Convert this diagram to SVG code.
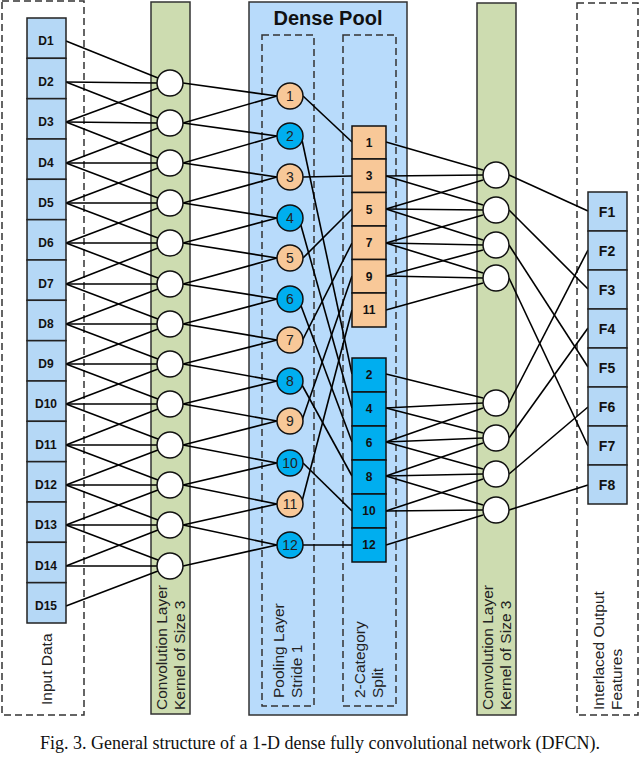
<svg xmlns="http://www.w3.org/2000/svg" width="640" height="761" viewBox="0 0 640 761">
<style>
.dash{fill:none;stroke:#333;stroke-width:1.5;stroke-dasharray:7,4}
.bar{fill:#cddcb0;stroke:#333;stroke-width:1.5}
.db{fill:#b5d8f6;stroke:#222;stroke-width:1.5}
.cv{fill:#fff;stroke:#111;stroke-width:1.5}
.po{fill:#f8c898;stroke:#111;stroke-width:1.5}
.pb{fill:#00aeef;stroke:#111;stroke-width:1.5}
.bl{font-family:"Liberation Sans",Arial,sans-serif;font-weight:bold;text-anchor:middle;fill:#111}
.nm{font-family:"Liberation Sans",Arial,sans-serif;text-anchor:middle;fill:#222;font-size:14px}
.lab{font-family:"Liberation Sans",Arial,sans-serif;font-size:15.5px;fill:#222}
#edges line{stroke:#000;stroke-width:1.6}
</style>
<rect class="dash" x="2" y="1" width="82" height="714"/>
<rect class="bar" x="151" y="2" width="39" height="712"/>
<rect x="249" y="2" width="158" height="713" fill="#b8dbfb" stroke="#333" stroke-width="1.5"/>
<text class="bl" x="328" y="25" font-size="20">Dense Pool</text>
<rect class="dash" x="262" y="35" width="52" height="671"/>
<rect class="dash" x="343" y="35" width="53" height="671"/>
<rect class="bar" x="477" y="3" width="39" height="712"/>
<rect class="dash" x="577" y="3" width="61" height="712"/>
<g id="edges">
<line x1="66" y1="41" x2="158" y2="78"/><line x1="66" y1="82" x2="157" y2="83"/><line x1="66" y1="122" x2="158" y2="88"/>
<line x1="66" y1="82" x2="158" y2="118"/><line x1="66" y1="122" x2="157" y2="123"/><line x1="66" y1="163" x2="158" y2="128"/>
<line x1="66" y1="122" x2="158" y2="158"/><line x1="66" y1="163" x2="157" y2="163"/><line x1="66" y1="203" x2="158" y2="168"/>
<line x1="66" y1="163" x2="158" y2="198"/><line x1="66" y1="203" x2="157" y2="203"/><line x1="66" y1="243" x2="158" y2="208"/>
<line x1="66" y1="203" x2="158" y2="238"/><line x1="66" y1="243" x2="157" y2="243"/><line x1="66" y1="284" x2="158" y2="248"/>
<line x1="66" y1="243" x2="158" y2="278"/><line x1="66" y1="284" x2="157" y2="284"/><line x1="66" y1="324" x2="158" y2="289"/>
<line x1="66" y1="284" x2="158" y2="319"/><line x1="66" y1="324" x2="157" y2="324"/><line x1="66" y1="364" x2="158" y2="329"/>
<line x1="66" y1="324" x2="158" y2="359"/><line x1="66" y1="364" x2="157" y2="364"/><line x1="66" y1="404" x2="158" y2="369"/>
<line x1="66" y1="364" x2="158" y2="399"/><line x1="66" y1="404" x2="157" y2="404"/><line x1="66" y1="445" x2="158" y2="409"/>
<line x1="66" y1="404" x2="158" y2="439"/><line x1="66" y1="445" x2="157" y2="445"/><line x1="66" y1="485" x2="158" y2="450"/>
<line x1="66" y1="445" x2="158" y2="480"/><line x1="66" y1="485" x2="157" y2="485"/><line x1="66" y1="525" x2="158" y2="490"/>
<line x1="66" y1="485" x2="158" y2="520"/><line x1="66" y1="525" x2="157" y2="525"/><line x1="66" y1="566" x2="158" y2="530"/>
<line x1="66" y1="525" x2="158" y2="560"/><line x1="66" y1="566" x2="157" y2="566"/><line x1="66" y1="606" x2="158" y2="571"/>
<line x1="183" y1="83" x2="277" y2="96"/><line x1="183" y1="123" x2="277" y2="96"/>
<line x1="183" y1="123" x2="277" y2="136"/><line x1="183" y1="163" x2="277" y2="136"/>
<line x1="183" y1="163" x2="277" y2="177"/><line x1="183" y1="203" x2="277" y2="177"/>
<line x1="183" y1="203" x2="277" y2="218"/><line x1="183" y1="243" x2="277" y2="218"/>
<line x1="183" y1="243" x2="277" y2="258"/><line x1="183" y1="284" x2="277" y2="258"/>
<line x1="183" y1="284" x2="277" y2="299"/><line x1="183" y1="324" x2="277" y2="299"/>
<line x1="183" y1="324" x2="277" y2="340"/><line x1="183" y1="364" x2="277" y2="340"/>
<line x1="183" y1="364" x2="277" y2="381"/><line x1="183" y1="404" x2="277" y2="381"/>
<line x1="183" y1="404" x2="277" y2="421"/><line x1="183" y1="445" x2="277" y2="421"/>
<line x1="183" y1="445" x2="277" y2="463"/><line x1="183" y1="485" x2="277" y2="463"/>
<line x1="183" y1="485" x2="277" y2="504"/><line x1="183" y1="525" x2="277" y2="504"/>
<line x1="183" y1="525" x2="277" y2="545"/><line x1="183" y1="566" x2="277" y2="545"/>
<line x1="303" y1="96" x2="352" y2="142"/><line x1="303" y1="177" x2="352" y2="176"/>
<line x1="303" y1="258" x2="352" y2="209"/><line x1="300" y1="345" x2="352" y2="243"/>
<line x1="300" y1="426" x2="352" y2="276"/><line x1="300" y1="509" x2="352" y2="310"/>
<line x1="302" y1="140" x2="352" y2="374"/><line x1="300" y1="222" x2="352" y2="408"/>
<line x1="300" y1="303" x2="352" y2="442"/><line x1="302" y1="385" x2="352" y2="476"/>
<line x1="303" y1="463" x2="352" y2="511"/><line x1="303" y1="545" x2="352" y2="545"/>
<line x1="386" y1="142" x2="483" y2="170"/><line x1="386" y1="176" x2="483" y2="175"/><line x1="386" y1="209" x2="483" y2="180"/>
<line x1="386" y1="176" x2="483" y2="205"/><line x1="386" y1="209" x2="483" y2="210"/><line x1="386" y1="243" x2="483" y2="215"/>
<line x1="386" y1="209" x2="483" y2="240"/><line x1="386" y1="243" x2="483" y2="245"/><line x1="386" y1="276" x2="483" y2="250"/>
<line x1="386" y1="243" x2="483" y2="273"/><line x1="386" y1="276" x2="483" y2="278"/><line x1="386" y1="310" x2="483" y2="283"/>
<line x1="386" y1="374" x2="483" y2="398"/><line x1="386" y1="408" x2="483" y2="403"/><line x1="386" y1="442" x2="483" y2="408"/>
<line x1="386" y1="408" x2="483" y2="433"/><line x1="386" y1="442" x2="483" y2="438"/><line x1="386" y1="476" x2="483" y2="443"/>
<line x1="386" y1="442" x2="483" y2="469"/><line x1="386" y1="476" x2="483" y2="474"/><line x1="386" y1="511" x2="483" y2="479"/>
<line x1="386" y1="476" x2="483" y2="505"/><line x1="386" y1="511" x2="483" y2="510"/><line x1="386" y1="545" x2="483" y2="515"/>
<line x1="509" y1="175" x2="588" y2="211"/><line x1="509" y1="210" x2="588" y2="289"/>
<line x1="509" y1="245" x2="588" y2="367"/><line x1="509" y1="278" x2="588" y2="446"/>
<line x1="509" y1="403" x2="588" y2="250"/><line x1="509" y1="438" x2="588" y2="328"/>
<line x1="509" y1="474" x2="588" y2="407"/><line x1="509" y1="510" x2="588" y2="485"/>
</g>
<g id="input" class="db">
<rect x="27" y="18" width="39" height="40.3"/><rect x="27" y="58.3" width="39" height="40.3"/><rect x="27" y="98.7" width="39" height="40.3"/><rect x="27" y="139" width="39" height="40.3"/><rect x="27" y="179.3" width="39" height="40.3"/><rect x="27" y="219.7" width="39" height="40.3"/><rect x="27" y="260" width="39" height="40.3"/><rect x="27" y="300.3" width="39" height="40.3"/><rect x="27" y="340.7" width="39" height="40.3"/><rect x="27" y="381" width="39" height="40.3"/><rect x="27" y="421.3" width="39" height="40.3"/><rect x="27" y="461.7" width="39" height="40.3"/><rect x="27" y="502" width="39" height="40.3"/><rect x="27" y="542.3" width="39" height="40.3"/><rect x="27" y="582.7" width="39" height="40.3"/>
</g>
<g id="input-labels" class="bl" font-size="12">
<text x="46" y="45">D1</text><text x="46" y="86">D2</text><text x="46" y="126">D3</text><text x="46" y="167">D4</text><text x="46" y="207">D5</text><text x="46" y="247">D6</text><text x="46" y="288">D7</text><text x="46" y="328">D8</text><text x="46" y="368">D9</text><text x="46" y="408">D10</text><text x="46" y="449">D11</text><text x="46" y="489">D12</text><text x="46" y="529">D13</text><text x="46" y="570">D14</text><text x="46" y="610">D15</text>
</g>
<g id="conv1" class="cv">
<circle cx="170" cy="83" r="13"/><circle cx="170" cy="123" r="13"/><circle cx="170" cy="163" r="13"/><circle cx="170" cy="203" r="13"/><circle cx="170" cy="243" r="13"/><circle cx="170" cy="284" r="13"/><circle cx="170" cy="324" r="13"/><circle cx="170" cy="364" r="13"/><circle cx="170" cy="404" r="13"/><circle cx="170" cy="445" r="13"/><circle cx="170" cy="485" r="13"/><circle cx="170" cy="525" r="13"/><circle cx="170" cy="566" r="13"/>
</g>
<g id="pool">
<circle class="po" cx="290" cy="96" r="13"/><circle class="pb" cx="290" cy="136" r="13"/><circle class="po" cx="290" cy="177" r="13"/><circle class="pb" cx="290" cy="218" r="13"/><circle class="po" cx="290" cy="258" r="13"/><circle class="pb" cx="290" cy="299" r="13"/><circle class="po" cx="290" cy="340" r="13"/><circle class="pb" cx="290" cy="381" r="13"/><circle class="po" cx="290" cy="421" r="13"/><circle class="pb" cx="290" cy="463" r="13"/><circle class="po" cx="290" cy="504" r="13"/><circle class="pb" cx="290" cy="545" r="13"/>
<g class="nm"><text x="290" y="101">1</text><text x="290" y="141">2</text><text x="290" y="182">3</text><text x="290" y="223">4</text><text x="290" y="263">5</text><text x="290" y="304">6</text><text x="290" y="345">7</text><text x="290" y="386">8</text><text x="290" y="426">9</text><text x="290" y="468">10</text><text x="290" y="509">11</text><text x="290" y="550">12</text></g>
</g>
<g id="split">
<g class="po"><rect x="352" y="126" width="34" height="33"/><rect x="352" y="159" width="34" height="33.5"/><rect x="352" y="192.5" width="34" height="33.5"/><rect x="352" y="226" width="34" height="33.5"/><rect x="352" y="259.5" width="34" height="33.5"/><rect x="352" y="293" width="34" height="34"/></g>
<g class="pb"><rect x="352" y="358" width="34" height="34"/><rect x="352" y="392" width="34" height="34"/><rect x="352" y="426" width="34" height="34"/><rect x="352" y="460" width="34" height="34"/><rect x="352" y="494" width="34" height="34"/><rect x="352" y="528" width="34" height="34"/></g>
<g class="bl" font-size="12"><text x="369" y="147">1</text><text x="369" y="180">3</text><text x="369" y="214">5</text><text x="369" y="247">7</text><text x="369" y="281">9</text><text x="369" y="314">11</text><text x="369" y="379">2</text><text x="369" y="413">4</text><text x="369" y="447">6</text><text x="369" y="481">8</text><text x="369" y="515">10</text><text x="369" y="549">12</text></g>
</g>
<g id="conv2" class="cv">
<circle cx="496" cy="175" r="13"/><circle cx="496" cy="210" r="13"/><circle cx="496" cy="245" r="13"/><circle cx="496" cy="278" r="13"/><circle cx="496" cy="403" r="13"/><circle cx="496" cy="438" r="13"/><circle cx="496" cy="474" r="13"/><circle cx="496" cy="510" r="13"/>
</g>
<g id="output">
<g class="db"><rect x="588" y="192" width="39" height="39"/><rect x="588" y="231" width="39" height="39"/><rect x="588" y="270" width="39" height="39"/><rect x="588" y="309" width="39" height="39"/><rect x="588" y="348" width="39" height="39"/><rect x="588" y="387" width="39" height="39"/><rect x="588" y="426" width="39" height="39"/><rect x="588" y="465" width="39" height="39"/></g>
<g class="bl" font-size="14"><text x="607" y="217">F1</text><text x="607" y="256">F2</text><text x="607" y="295">F3</text><text x="607" y="334">F4</text><text x="607" y="373">F5</text><text x="607" y="412">F6</text><text x="607" y="451">F7</text><text x="607" y="490">F8</text></g>
</g>
<g id="labels" class="lab">
<text transform="translate(52,705) rotate(-90)">Input Data</text>
<text transform="translate(167,710) rotate(-90)">Convolution Layer</text>
<text transform="translate(185,710) rotate(-90)">Kernel of Size 3</text>
<text transform="translate(284,698) rotate(-90)">Pooling Layer</text>
<text transform="translate(302,698) rotate(-90)">Stride 1</text>
<text transform="translate(365,698) rotate(-90)">2-Category</text>
<text transform="translate(383,698) rotate(-90)">Split</text>
<text transform="translate(493,710) rotate(-90)">Convolution Layer</text>
<text transform="translate(511,710) rotate(-90)">Kernel of Size 3</text>
<text transform="translate(604,710) rotate(-90)">Interlaced Output</text>
<text transform="translate(622,710) rotate(-90)">Features</text>
</g>
<text x="320" y="749" font-family="Liberation Serif,serif" font-size="18" text-anchor="middle" fill="#111">Fig. 3. General structure of a 1-D dense fully convolutional network (DFCN).</text>
</svg>
